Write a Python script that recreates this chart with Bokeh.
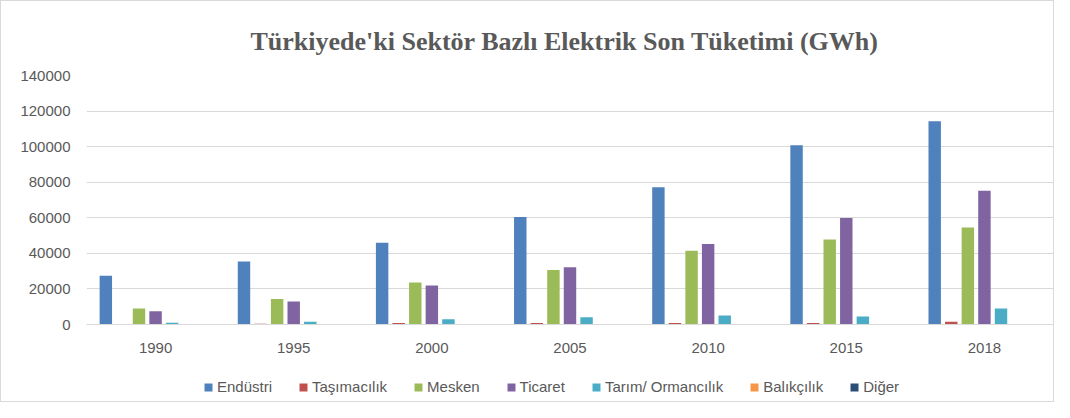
from bokeh.plotting import figure
from bokeh.layouts import column
from bokeh.models import (ColumnDataSource, FactorRange, Range1d, FixedTicker, Legend,
                          LegendItem, BasicTickFormatter)
from bokeh.transform import dodge
from bokeh.embed import file_html
from bokeh.resources import INLINE

years = ["1990", "1995", "2000", "2005", "2010", "2015", "2018"]
series_names = ["Endüstri", "Taşımacılık", "Mesken", "Ticaret", "Tarım/ Ormancılık", "Balıkçılık", "Diğer"]
endustri = [27400, 35400, 45900, 60400, 77100, 100800, 114300]
tasimacilik = [300, 400, 800, 900, 900, 900, 1500]
mesken = [9000, 14400, 23600, 30700, 41400, 47800, 54500]
ticaret = [7500, 12900, 21900, 32200, 45300, 59900, 75200]
tarim = [1000, 1500, 3000, 4100, 5000, 4500, 9000]
balikcilik = [0, 0, 0, 0, 0, 0, 0]
diger = [0, 0, 0, 0, 0, 0, 0]
values = [endustri, tasimacilik, mesken, ticaret, tarim, balikcilik, diger]
colors = ["#4F81BD", "#C0504D", "#9BBB59", "#8064A2", "#4BACC6", "#F79646", "#2C4D75"]
y_ticks = [0, 20000, 40000, 60000, 80000, 100000, 120000, 140000]
title_text = "Türkiyede'ki Sektör Bazlı Elektrik Son Tüketimi (GWh)"

FONT = "Liberation Sans"
GREY = "#595959"

p = figure(width=1052, height=362, x_range=FactorRange(*years), y_range=Range1d(0, 140000),
           output_backend="svg", toolbar_location=None,
           min_border_left=85, min_border_right=0, min_border_top=74, min_border_bottom=39)
p.outline_line_color = None
p.background_fill_color = "white"
p.border_fill_color = "white"

p.title.text = title_text
p.title.align = "left"
p.title.offset = 164
p.title.standoff = 40
p.title.text_font = "Liberation Serif"
p.title.text_font_style = "bold"
p.title.text_font_size = "26px"
p.title.text_color = GREY

step = 0.12
bw = 0.09
for i, (name, vals, col) in enumerate(zip(series_names, values, colors)):
    src = ColumnDataSource(dict(year=years, v=vals))
    p.vbar(x=dodge("year", (i - 3) * step, range=p.x_range), top="v", width=bw,
           source=src, fill_color=col, line_color=None)

p.xgrid.grid_line_color = None
p.ygrid.grid_line_color = "#d9d9d9"
p.ygrid.grid_line_width = 1
p.yaxis.ticker = FixedTicker(ticks=y_ticks)
p.yaxis.formatter = BasicTickFormatter(use_scientific=False)

for ax in (p.xaxis, p.yaxis):
    ax.major_tick_line_color = None
    ax.minor_tick_line_color = None
    ax.major_tick_out = 0
    ax.major_tick_in = 0
    ax.major_label_text_font = FONT
    ax.major_label_text_font_size = "15px"
    ax.major_label_text_color = GREY
p.yaxis.axis_line_color = None
p.yaxis.major_label_standoff = 16
p.xaxis.axis_line_color = "#d9d9d9"
p.xaxis.major_label_standoff = 18

# legend strip
p2 = figure(width=1052, height=38, x_range=Range1d(0, 1), y_range=Range1d(0, 1),
            x_axis_type=None, y_axis_type=None, output_backend="svg", toolbar_location=None,
            min_border=0)
p2.outline_line_color = None
p2.xgrid.visible = False
p2.ygrid.visible = False
p2.border_fill_color = "white"
items = []
for name, col in zip(series_names, colors):
    r = p2.vbar(x=[-10], top=[-10], width=0.1, fill_color=col, line_color=None)
    items.append(LegendItem(label=name, renderers=[r]))
legend = Legend(items=items, orientation="horizontal", location=(117, 6),
                glyph_width=10, glyph_height=10, label_standoff=4, spacing=26,
                label_text_font=FONT, label_text_font_size="15px", label_text_color=GREY,
                label_height=15, padding=0, margin=0, border_line_color=None,
                background_fill_alpha=0)
p2.add_layout(legend)

layout = column(p, p2, spacing=0)
layout.styles = {"border": "1px solid #d9d9d9"}

open("out.html", "w").write(file_html(layout, INLINE))
